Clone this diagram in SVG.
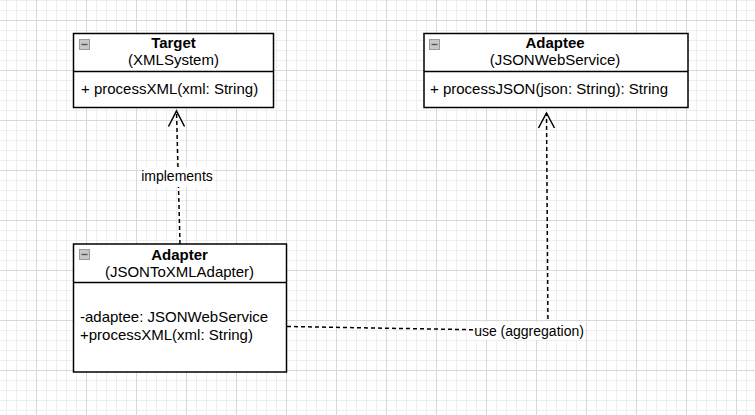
<svg xmlns="http://www.w3.org/2000/svg" width="755" height="415" viewBox="0 0 755 415">
  <defs>
    <pattern id="minor" width="10" height="10" patternUnits="userSpaceOnUse" x="6" y="0">
      <path d="M0 0.5H10M0.5 0V10" fill="none" stroke="#eeeeee" stroke-width="1"/>
    </pattern>
    <pattern id="major" width="50" height="50" patternUnits="userSpaceOnUse" x="36" y="20">
      <path d="M0 0.5H50M0.5 0V50" fill="none" stroke="#d8d8d8" stroke-width="1"/>
    </pattern>
    <g id="minus">
      <rect x="0.5" y="0.5" width="10" height="10" fill="#c8c8c8" stroke="#9a9a9a" stroke-width="1"/>
      <path d="M2.5 5.5H8.5" stroke="#555" stroke-width="1.4"/>
    </g>
  </defs>
  <style>
    text { font-family: "Liberation Sans", Arial, sans-serif; font-size: 15px; fill: #000; }
    .title { font-weight: bold; text-anchor: middle; }
    .sub { text-anchor: middle; }
    .edge { font-size: 14px; text-anchor: middle; }
    .box { fill: #fff; stroke: #000; stroke-width: 1.5; }
    .sep { stroke: #000; stroke-width: 1.5; }
    .dash { fill: none; stroke: #000; stroke-width: 1.5; stroke-dasharray: 4 3; }
    .head { fill: none; stroke: #000; stroke-width: 1.5; }
    .lbl { fill: #fff; }
  </style>
  <rect width="755" height="415" fill="#fff"/>
  <rect width="755" height="415" fill="url(#minor)"/>
  <rect width="755" height="415" fill="url(#major)"/>

  <g id="connectors">
    <path class="dash" d="M180 244L176.5 111"/>
    <path class="head" d="M168.5 126.5L176.5 111L184.5 126.5"/>
    <rect class="lbl" x="141" y="167" width="72" height="20"/>
    <text class="edge" x="177" y="181">implements</text>

    <path class="dash" d="M287 326.5L548 331L546.5 113"/>
    <path class="head" d="M538.5 128L546.5 113L554.5 128"/>
    <rect class="lbl" x="475" y="322" width="109" height="18"/>
    <text class="edge" x="529" y="336">use (aggregation)</text>
  </g>

  <g id="target">
    <rect class="box" x="73.5" y="33.5" width="200" height="74"/>
    <line class="sep" x1="73.5" y1="71.5" x2="273.5" y2="71.5"/>
    <use href="#minus" x="79" y="39"/>
    <text class="title" x="173.5" y="48">Target</text>
    <text class="sub" x="173.5" y="65">(XMLSystem)</text>
    <text x="81" y="94">+ processXML(xml: String)</text>
  </g>

  <g id="adaptee">
    <rect class="box" x="424" y="33.5" width="264" height="74"/>
    <line class="sep" x1="424" y1="71.5" x2="688" y2="71.5"/>
    <use href="#minus" x="429" y="39"/>
    <text class="title" x="555" y="48">Adaptee</text>
    <text class="sub" x="555" y="65">(JSONWebService)</text>
    <text x="430" y="94">+ processJSON(json: String): String</text>
  </g>

  <g id="adapter">
    <rect class="box" x="73.5" y="244" width="213" height="128"/>
    <line class="sep" x1="73.5" y1="282.5" x2="286.5" y2="282.5"/>
    <use href="#minus" x="79" y="249"/>
    <text class="title" x="179.5" y="260">Adapter</text>
    <text class="sub" x="179.5" y="277">(JSONToXMLAdapter)</text>
    <text x="80" y="322">-adaptee: JSONWebService</text>
    <text x="80" y="340">+processXML(xml: String)</text>
  </g>
</svg>
